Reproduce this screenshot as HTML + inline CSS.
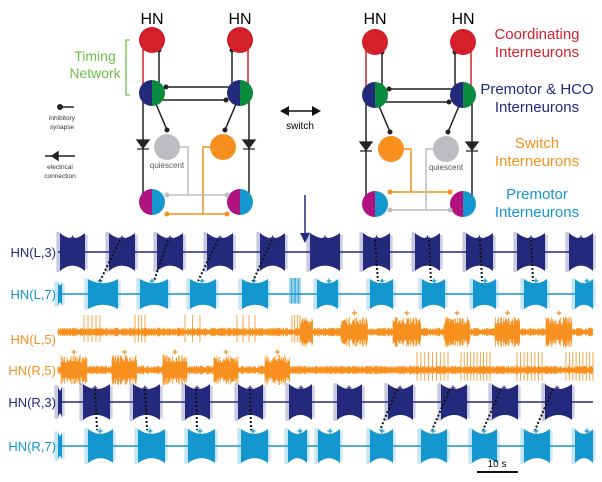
<!DOCTYPE html><html><head><style>body{margin:0;background:#fff}svg{display:block;font-family:"Liberation Sans",sans-serif}</style></head><body>
<svg id="s" width="602" height="482" xmlns="http://www.w3.org/2000/svg">
<defs>
<g id="circ">
<line x1="-9" y1="0" x2="-9" y2="50" stroke="#d4202a" stroke-width="1.5"/><circle cx="-9" cy="50" r="2.5" fill="#d4202a"/>
<line x1="7" y1="10" x2="7" y2="45" stroke="#222" stroke-width="1.5"/><circle cx="7" cy="10" r="2.5" fill="#222"/>
<line x1="96" y1="0" x2="96" y2="50" stroke="#d4202a" stroke-width="1.5"/><circle cx="96" cy="50" r="2.5" fill="#d4202a"/>
<line x1="80" y1="10" x2="80" y2="45" stroke="#222" stroke-width="1.5"/><circle cx="80" cy="10" r="2.5" fill="#222"/>
<line x1="14" y1="47" x2="80" y2="47" stroke="#222" stroke-width="1.5"/><circle cx="14" cy="47" r="2.5" fill="#222"/>
<line x1="8" y1="60" x2="74" y2="60" stroke="#222" stroke-width="1.5"/><circle cx="74" cy="60" r="2.5" fill="#222"/>
<line x1="4" y1="64" x2="15" y2="90" stroke="#222" stroke-width="1.5"/><circle cx="15" cy="90" r="2.5" fill="#222"/>
<line x1="84" y1="64" x2="73" y2="90" stroke="#222" stroke-width="1.5"/><circle cx="73" cy="90" r="2.5" fill="#222"/>
<line x1="-9" y1="56" x2="-9" y2="160" stroke="#222" stroke-width="1.5"/>
<line x1="97" y1="56" x2="97" y2="160" stroke="#222" stroke-width="1.5"/>
<path d="M-15,100 L-3,100 L-9,108Z M-15,109 L-3,109" fill="#222" stroke="#222" stroke-width="1.3"/>
<path d="M91,100 L103,100 L97,108Z M91,109 L103,109" fill="#222" stroke="#222" stroke-width="1.3"/>
<circle cx="0" cy="0" r="13" fill="#d4202a"/><circle cx="88" cy="0" r="13" fill="#d4202a"/>
<path d="M0,40 A13,13 0 0 0 0,66Z" fill="#232a7c"/><path d="M0,40 A13,13 0 0 1 0,66Z" fill="#0a8a3f"/>
<path d="M88,40 A13,13 0 0 0 88,66Z" fill="#232a7c"/><path d="M88,40 A13,13 0 0 1 88,66Z" fill="#0a8a3f"/>
<path d="M0,149 A13,13 0 0 0 0,175Z" fill="#b0127e"/><path d="M0,149 A13,13 0 0 1 0,175Z" fill="#1497cf"/>
<path d="M88,149 A13,13 0 0 0 88,175Z" fill="#b0127e"/><path d="M88,149 A13,13 0 0 1 88,175Z" fill="#1497cf"/>
</g>
</defs>
<text x="152" y="24" font-size="16" text-anchor="middle">HN</text><text x="240" y="24" font-size="16" text-anchor="middle">HN</text>
<text x="375" y="24" font-size="16" text-anchor="middle">HN</text><text x="463" y="24" font-size="16" text-anchor="middle">HN</text>
<g transform="translate(152,40)"><use href="#circ"/>
<path d="M58,107 H51 V174 M75,174 H15" fill="none" stroke="#f7901e" stroke-width="1.5"/><circle cx="15" cy="174" r="2.5" fill="#f7901e"/><circle cx="75" cy="174" r="2.5" fill="#f7901e"/>
<path d="M28,107 H36 V155 M75,155 H15" fill="none" stroke="#bbbdc0" stroke-width="1.5"/><circle cx="15" cy="155" r="2.5" fill="#bbbdc0"/><circle cx="75" cy="155" r="2.5" fill="#bbbdc0"/>
<circle cx="15" cy="107" r="13" fill="#bbbdc0"/><circle cx="71" cy="107" r="13" fill="#f7901e"/>
<text x="15" y="128" font-size="8" fill="#555" text-anchor="middle">quiescent</text></g>
<g transform="translate(375,42)"><use href="#circ"/>
<path d="M28,107 H36 V150 M75,150 H15" fill="none" stroke="#f7901e" stroke-width="1.5"/><circle cx="15" cy="150" r="2.5" fill="#f7901e"/><circle cx="75" cy="150" r="2.5" fill="#f7901e"/>
<path d="M58,107 H51 V168 M75,168 H15" fill="none" stroke="#bbbdc0" stroke-width="1.5"/><circle cx="15" cy="168" r="2.5" fill="#bbbdc0"/><circle cx="75" cy="168" r="2.5" fill="#bbbdc0"/>
<circle cx="16" cy="107" r="13" fill="#f7901e"/><circle cx="71" cy="107" r="13" fill="#bbbdc0"/>
<text x="71" y="128" font-size="8" fill="#555" text-anchor="middle">quiescent</text></g>
<g fill="#d4202a" font-size="15" text-anchor="middle"><text x="537" y="39">Coordinating</text><text x="537" y="57">Interneurons</text></g>
<g fill="#232a7c" font-size="15" text-anchor="middle"><text x="537" y="94">Premotor &amp; HCO</text><text x="537" y="112">Interneurons</text></g>
<g fill="#f7901e" font-size="15" text-anchor="middle"><text x="537" y="148">Switch</text><text x="537" y="166">Interneurons</text></g>
<g fill="#1497cf" font-size="15" text-anchor="middle"><text x="537" y="199">Premotor</text><text x="537" y="217">Interneurons</text></g>
<path d="M130,40 H126 V95 H130" fill="none" stroke="#6cbf4a" stroke-width="1.3"/>
<g fill="#6cbf4a" font-size="14" text-anchor="middle"><text x="95" y="61">Timing</text><text x="95" y="78">Network</text></g>
<line x1="60" y1="107" x2="74" y2="107" stroke="#222" stroke-width="1.5"/><circle cx="60" cy="107" r="3" fill="#222"/>
<g font-size="6.5" fill="#333" text-anchor="middle"><text x="62" y="120">inhibitory</text><text x="62" y="129">synapse</text><text x="60" y="169">electrical</text><text x="60" y="178">connection</text></g>
<path d="M45,156 H75 M58,152 L58,160 L52,156Z M58,152 V160" stroke="#222" stroke-width="1.5" fill="#222"/>
<path d="M283,111 H318" stroke="#111" stroke-width="1.5"/><path d="M280,111 L289,106 L289,116Z M321,111 L312,106 L312,116Z" fill="#111"/>
<text x="300" y="129" font-size="10" text-anchor="middle">switch</text>
<line x1="305" y1="195" x2="305" y2="236" stroke="#232a7c" stroke-width="1.5"/><path d="M300,233 L310,233 L305,243Z" fill="#232a7c"/>
<g font-size="13" text-anchor="end">
<text x="56" y="257" fill="#232a7c">HN(L,3)</text><text x="56" y="299" fill="#1497cf">HN(L,7)</text>
<text x="56" y="344" fill="#f7901e">HN(L,5)</text><text x="56" y="375" fill="#f7901e">HN(R,5)</text>
<text x="56" y="407" fill="#232a7c">HN(R,3)</text><text x="56" y="451" fill="#1497cf">HN(R,7)</text></g>
<g id="tr"></g>
<line x1="477" y1="472" x2="518" y2="472" stroke="#111" stroke-width="2"/><text x="497" y="467" font-size="10" text-anchor="middle">10 s</text>
</svg>
<script>
var g=document.getElementById('tr'),ns='http://www.w3.org/2000/svg',seed=7;
function r(){seed=(seed*16807)%2147483647;return seed/2147483647;}
function el(t,a){var e=document.createElementNS(ns,t);for(var k in a)e.setAttribute(k,a[k]);g.appendChild(e);return e;}
function line(y,c,w){el('line',{x1:58,y1:y,x2:593,y2:y,stroke:c,'stroke-width':w||1.5});}
function burst(x0,x1,y,a,c){var d='M'+x0+','+y,n=20,i,t,h;for(i=0;i<=n;i++){t=i/n;h=a*(0.72+0.28*Math.pow(2*t-1,2));d+=' L'+(x0+(x1-x0)*t)+','+(y-h);}
for(i=n;i>=0;i--){t=i/n;h=a*(0.72+0.28*Math.pow(2*t-1,2));d+=' L'+(x0+(x1-x0)*t)+','+(y+h);}el('path',{d:d+'Z',fill:c});
var p='',x;for(i=0;i<3;i++){x=x0-0.8-i*1.1;p+='M'+x+','+(y-a*1.05)+'V'+(y+a*1.05);}for(i=0;i<2;i++){x=x1+0.8+i*1.2;p+='M'+x+','+(y-a*0.9)+'V'+(y+a*0.9);}
el('path',{d:p,stroke:c,'stroke-width':0.6,opacity:0.5});}
function plus(x,y,c){el('path',{d:'M'+(x-2.5)+','+y+'H'+(x+2.5)+'M'+x+','+(y-2.5)+'V'+(y+2.5),stroke:c,'stroke-width':1.2});}
function noise(x0,x1,y,a,c){var d='';for(var x=x0;x<x1;x+=0.6){var h=a*(0.5+r()*0.6);d+='M'+x.toFixed(1)+','+(y-h).toFixed(1)+'V'+(y+h).toFixed(1);}el('path',{d:d,stroke:c,'stroke-width':0.7});}
function spikes(x0,x1,y,a,c,n){var d='';for(var i=0;i<n;i++){var x=x0+(x1-x0)*i/(n-1);d+='M'+x.toFixed(1)+','+(y-a)+'V'+(y+a*0.6);}el('path',{d:d,stroke:c,'stroke-width':0.8});}
function dots(x1,y1,x2,y2){el('line',{x1:x1,y1:y1,x2:x2,y2:y2,stroke:'#111','stroke-width':2,'stroke-dasharray':'2,2'});}
var N='#232a7c',C='#1497cf',O='#f7901e';
line(252,N);[[60,85],[109,135],[157,183],[207,233],[260,285],[310,340],[363,390],[415,440],[466,493],[517,545],[569,593]].forEach(function(b){burst(b[0],b[1],252,19,N);plus((b[0]+b[1])/2,238,N);});
line(294,C);[[88,118],[140,168],[190,216],[242,268],[317,338],[370,393],[422,445],[473,496],[524,547],[575,593]].forEach(function(b){burst(b[0],b[1],294,15,C);plus(b[0]+12,281,C);});
burst(58,62,294,12,C);spikes(290,300,294,16,C,8);
noise(58,593,332,4,O);[[84,100,5],[135,145,4],[185,200,3],[237,255,4],[292,300,4]].forEach(function(s){spikes(s[0],s[1],332,17,O,s[2]);});
[[341,368],[393,421],[444,470],[495,520],[546,572]].forEach(function(b){noise(b[0],b[1],332,14,O);plus((b[0]+b[1])/2,313,O);});noise(300,313,332,14,O);
noise(58,593,370,4,O);[[61,87],[112,137],[163,187],[214,238],[265,290]].forEach(function(b){noise(b[0],b[1],370,14,O);plus((b[0]+b[1])/2,352,O);});
[[417,448,9],[461,490,10],[517,542,8],[566,593,9]].forEach(function(s){spikes(s[0],s[1],370,18,O,s[2]);});
line(402,N);[[83,110],[133,160],[185,210],[238,263],[289,312],[337,362],[388,413],[441,467],[492,518],[545,572]].forEach(function(b){burst(b[0],b[1],402,18,N);plus(b[0]+12,388,N);});burst(58,62,402,16,N);
line(446,C);[[88,113],[138,165],[188,215],[241,268],[288,307],[318,340],[370,393],[421,447],[472,497],[524,550],[575,593]].forEach(function(b){burst(b[0],b[1],446,17,C);plus(b[0]+12,431,C);});burst(58,62,446,14,C);
[[120,240,100,281],[168,240,154,281],[218,240,198,281],[272,240,253,281],[375,240,378,281],[429,240,431,281],[480,240,482,281],[531,240,533,281]].forEach(function(d){dots(d[0],d[1],d[2],d[3]);});
[[95,389,97,430],[145,389,147,430],[196,389,197,430],[250,389,251,430],[397,389,380,430],[450,389,432,430],[501,389,483,430],[553,389,535,430]].forEach(function(d){dots(d[0],d[1],d[2],d[3]);});
</script>
</body></html>
